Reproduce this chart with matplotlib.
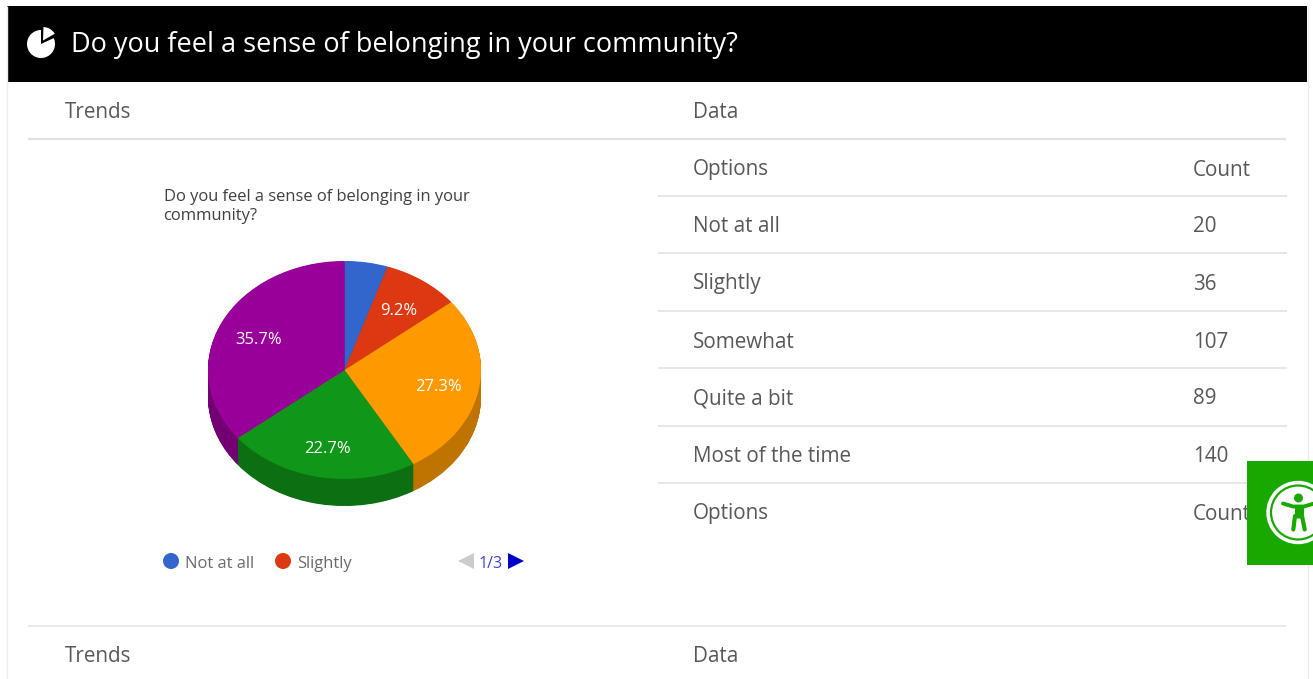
import matplotlib
matplotlib.use("Agg")
import matplotlib.pyplot as plt
from matplotlib.patches import Circle, Rectangle, Wedge, Polygon

plt.rcParams['font.family'] = ['Open Sans', 'DejaVu Sans']
plt.rcParams['lines.solid_capstyle'] = 'butt'

W, H = 1313, 679

# survey results
options = ['Not at all', 'Slightly', 'Somewhat', 'Quite a bit', 'Most of the time']
counts = [20, 36, 107, 89, 140]
question = 'Do you feel a sense of belonging in your community?'
chart_title = 'Do you feel a sense of belonging in your\ncommunity?'

top_colors = ['#3366cc', '#dc3912', '#ff9900', '#109618', '#990099']
side_colors = ['#264d99', '#a52b0e', '#bf7300', '#0c7012', '#730073']

text_col = '#56585c'
line_col = '#e4e5e6'
green = '#19a800'

fig = plt.figure(figsize=(W / 100, H / 100), dpi=100, facecolor='white')

# page layer in pixel coordinates
ax = fig.add_axes([0, 0, 1, 1])
ax.set_xlim(0, W)
ax.set_ylim(H, 0)
ax.axis('off')

# card border and black header
ax.plot([6.5, 6.5], [6, H], color='#ececec', lw=1)
ax.plot([1307.5, 1307.5], [6, H], color='#ececec', lw=1)
ax.add_patch(Rectangle((7, 6), 1300, 76, color='black', lw=0))
ax.text(71, 45, question, color='white', fontsize=19.55, va='center')

# header pie icon, y axis is inverted so angles run clockwise
ax.add_patch(Wedge((41, 44), 14, -25, 270, color='white', lw=0))
ax.add_patch(Wedge((43, 40.5), 13.5, -88, -30, color='white', lw=0))

# column headings and rules
for y in (112, 656):
    ax.text(65, y, 'Trends', color=text_col, fontsize=14.9, va='center')
    ax.text(693, y, 'Data', color=text_col, fontsize=14.9, va='center')
ax.plot([28, 1286], [139, 139], color='#e0e1e2', lw=1.6)
ax.plot([28, 1286], [625.5, 625.5], color=line_col, lw=1.2)

# data table
row_y = [170, 227, 284, 342, 399, 456, 514]
rule_y = [196, 253, 310.5, 368, 425.5, 482.5]
rows = [('Options', 'Count')] + [(o, str(c)) for o, c in zip(options, counts)] + [('Options', 'Count')]
for y, (name, val) in zip(row_y, rows):
    ax.text(693, y, name, color=text_col, fontsize=14.9, va='center')
    ax.text(1193, y, val, color=text_col, fontsize=14.9, va='center', zorder=2)
for y in rule_y:
    ax.plot([658, 1287], [y, y], color=line_col, lw=1.3)

# chart title
ax.text(163.5, 206.5, chart_title, color='#404040', fontsize=11.85, va='center', linespacing=1.32)

# legend (first page)
for x, name, col in zip((171, 283), options[:2], top_colors[:2]):
    ax.add_patch(Circle((x, 561), 8, color=col, lw=0))
    ax.text(x + 14, 563.5, name, color='#6a6a6a', fontsize=11.9, va='center')
ax.add_patch(Polygon([(474, 553), (474, 569), (458, 561)], color='#cccccc', lw=0))
ax.add_patch(Polygon([(508, 553), (508, 569), (524, 561)], color='#0000cc', lw=0))
ax.text(491, 563.5, '1/3', color='#0000cc', alpha=0.75, fontsize=11.6, va='center', ha='center')

# accessibility button
ax.add_patch(Rectangle((1247, 461), 66, 104, color=green, lw=0, zorder=5))
ax.add_patch(Circle((1298, 512.5), 31.7, color='white', lw=0, zorder=6))
ax.add_patch(Circle((1298, 512.5), 27, fill=False, ec=green, lw=1.6, zorder=7))
ax.add_patch(Circle((1298.5, 498), 4.5, color=green, lw=0, zorder=7))
ax.plot([1283, 1293, 1304, 1314], [503.5, 506.5, 506.5, 503.5], color=green, lw=2.8,
        solid_capstyle='round', zorder=7)
ax.plot([1298.5, 1298.5], [505, 518], color=green, lw=6.5, zorder=7)
ax.plot([1295, 1293.3], [516, 529.5], color=green, lw=3, solid_capstyle='round', zorder=7)
ax.plot([1302, 1304.7], [516, 529.5], color=green, lw=3, solid_capstyle='round', zorder=7)

# tilted pie: axes span the ellipse plus the side wall below it
rx, ry, depth = 136.5, 109, 27
cx, cy = 344.5, 370
pie_ax = fig.add_axes([(cx - rx) / W, 1 - (cy + ry + depth) / H,
                       2 * rx / W, (2 * ry + depth) / H])
for k in range(depth * 2, 0, -1):
    pie_ax.pie(counts, colors=side_colors, startangle=90, counterclock=False, radius=1,
               center=(0, -k / 2 / ry))
wedges, texts, autotexts = pie_ax.pie(
    counts, colors=top_colors, startangle=90, counterclock=False, radius=1,
    autopct=lambda p: f'{p:.1f}%' if p >= 6 else '', pctdistance=0.7,
    textprops={'color': 'white', 'fontsize': 11.9})
for t in autotexts:
    tx, ty = t.get_position()
    t.set_position((tx, ty - 3.5 / ry))
pie_ax.set_aspect('auto')
pie_ax.set_xlim(-1, 1)
pie_ax.set_ylim(-1 - depth / ry, 1)
pie_ax.patch.set_alpha(0)

fig.savefig('out.png', dpi=100, facecolor='white')
